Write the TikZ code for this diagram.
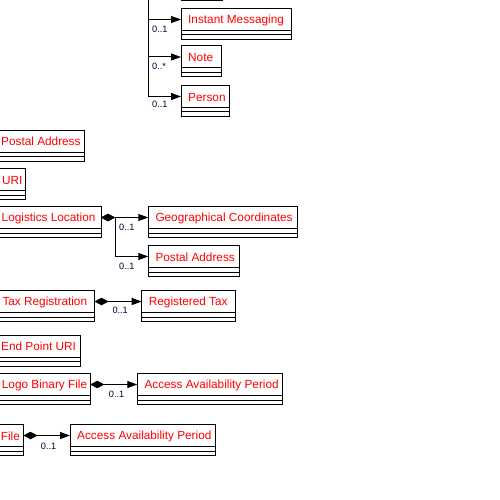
\documentclass[tikz,border=0pt]{standalone}
\usepackage{fontspec}
\setmainfont{Liberation Sans}
\usetikzlibrary{arrows.meta}
\definecolor{lblc}{RGB}{0,0,60}
\tikzset{
 cls/.style={draw=black, line width=1pt, minimum height=22pt, inner sep=0pt, outer sep=0pt, anchor=north west},
 ctext/.style={text=red, font=\fontsize{11.8}{14}\selectfont, inner sep=0pt, anchor=west},
 mult/.style={text=lblc, font=\fontsize{9.2}{11}\selectfont, inner sep=0pt, anchor=west},
 conn/.style={draw=black, line width=1pt, -{Triangle[length=10pt,width=7pt]}},
 comp/.style={draw=black, line width=1pt, {Diamond[length=14pt,width=7.5pt]}-{Triangle[length=10pt,width=7pt]}},
}
\newcommand\umlbox[5]{%
 \node[cls, minimum width=#4pt] (#1) at (#2,#3) {};
 \draw[line width=1pt] (#1.south west) rectangle ++(#4,4.5) ++(-#4,0) rectangle ++(#4,4.5);
 \node[ctext] (#1-t) at ([xshift=7pt,yshift=-0.5pt]#1.west) {#5};
}
\begin{document}
\begin{tikzpicture}[x=1pt,y=-1pt]
\fill[white] (0,0) rectangle (500,500);
\useasboundingbox (0,0) rectangle (500,500);
\clip (0,0) rectangle (500,500);
% right column (top)
\umlbox{tb}{181}{-30.5}{41}{}
\umlbox{im}{181}{8.5}{110}{Instant Messaging}
\umlbox{note}{181}{46}{40}{Note}
\umlbox{person}{181}{85.5}{48.5}{Person}
\coordinate (src) at (148.3,-45);
\draw[conn] (src) |- (tb.west);
\draw[conn] (src) |- (im.west);
\draw[conn] (src) |- (note.west);
\draw[conn] (src) |- (person.west);
\node[mult] (m1) at (152,29.3) {0..1};
\node[mult] (m2) at (152,66.7) {0..*};
\node[mult] (m3) at (152,104.5) {0..1};
% left column
\umlbox{pa}{-6}{130}{90.3}{Postal Address}
\umlbox{uri}{-5}{168.5}{30.5}{URI}
\umlbox{logi}{-5.5}{206.5}{106.5}{Logistics Location}
\umlbox{geo}{148.3}{206.5}{148.7}{Geographical Coordinates}
\umlbox{pa2}{148.3}{245.5}{90.7}{Postal Address}
\draw[comp] (logi.east) -- (geo.west);
\draw[comp] (logi.east) -- ++(14,0) |- (pa2.west);
\node[mult] (m4) at (119,227) {0..1};
\node[mult] (m5) at (119,266) {0..1};
\umlbox{tax}{-4.7}{290.5}{99.2}{Tax Registration}
\umlbox{rt}{141.7}{290.5}{94}{Registered Tax}
\draw[comp] (tax.east) -- (rt.west);
\node[mult] (m6) at (112.3,310) {0..1};
\umlbox{ep}{-6}{335}{86.7}{End Point URI}
\umlbox{logo}{-5.3}{373.5}{95.6}{Logo Binary File}
\umlbox{aap}{137.3}{373.5}{145.4}{Access Availability Period}
\draw[comp] (logo.east) -- (aap.west);
\node[mult] (m7) at (108.7,394.3) {0..1};
\umlbox{file}{-6.3}{424.5}{29.8}{File}
\umlbox{aap2}{70}{424.5}{145.7}{Access Availability Period}
\draw[comp] (file.east) -- (aap2.west);
\node[mult] (m8) at (40.7,446.7) {0..1};
\end{tikzpicture}
\end{document}
